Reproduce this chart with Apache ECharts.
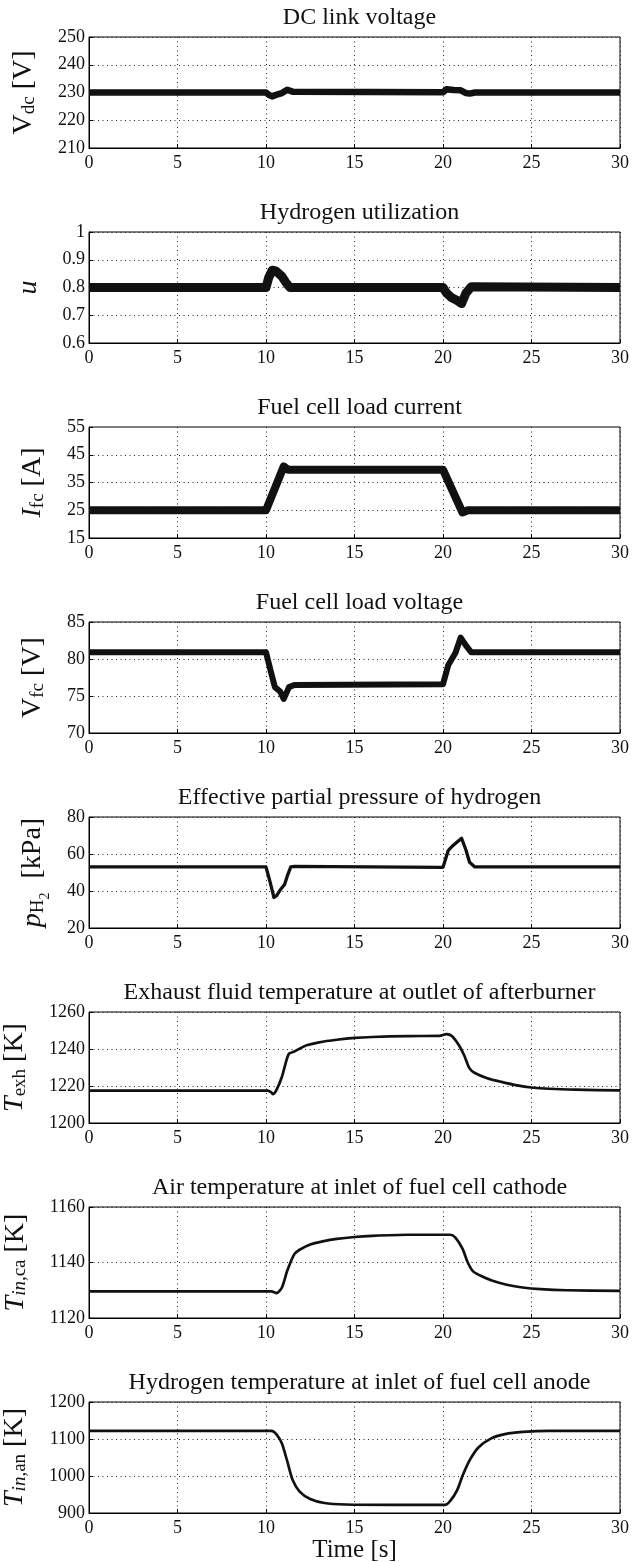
<!DOCTYPE html>
<html><head><meta charset="utf-8">
<script src="https://cdn.jsdelivr.net/npm/echarts@6/dist/echarts.min.js"></script>
<style>html,body{margin:0;padding:0;background:#fff}#c{width:643px;height:1562px}</style>
</head><body><div id="c"></div>
<script>
// ---------- data ----------
const titles = [
  'DC link voltage',
  'Hydrogen utilization',
  'Fuel cell load current',
  'Fuel cell load voltage',
  'Effective partial pressure of hydrogen',
  'Exhaust fluid temperature at outlet of afterburner',
  'Air temperature at inlet of fuel cell cathode',
  'Hydrogen temperature at inlet of fuel cell anode'
];
const xTicks = [0, 5, 10, 15, 20, 25, 30];
const yMin = [210, 0.6, 15, 70, 20, 1200, 1120, 900];
const yMax = [250, 1, 55, 85, 80, 1260, 1160, 1200];
const yStep = [10, 0.1, 10, 5, 20, 20, 20, 100];
const yTicks3 = [15, 25, 35, 45, 55];

const t1 = [0, 10, 10.15, 10.35, 10.6, 10.9, 11.2, 11.5, 20, 20.2, 20.6, 21.0, 21.3, 21.5, 21.8, 30];
const v1 = [230, 230, 229.2, 228.6, 229.2, 229.8, 231, 230.3, 230.1, 231.2, 230.9, 230.8, 229.8, 229.6, 230, 230];

const t2 = [0, 10, 10.15, 10.35, 10.55, 10.9, 11.1, 11.35, 20, 20.2, 20.5, 20.8, 21.05, 21.3, 21.6, 30];
const v2 = [0.8, 0.8, 0.835, 0.862, 0.86, 0.84, 0.82, 0.8, 0.8, 0.78, 0.763, 0.753, 0.742, 0.78, 0.803, 0.8];

const t3 = [0, 10, 11.0, 11.25, 20, 21.1, 21.4, 30];
const v3 = [25, 25, 40.8, 39.6, 39.6, 24.2, 25, 25];

const t4 = [0, 10, 10.25, 10.5, 10.8, 11.0, 11.3, 11.6, 20, 20.3, 20.7, 21.0, 21.3, 21.6, 30];
const v4 = [80.9, 80.9, 78.5, 76.2, 75.6, 74.6, 76.2, 76.5, 76.6, 79.2, 80.8, 82.9, 81.8, 80.9, 80.9];

const t5 = [0, 10, 10.2, 10.45, 10.6, 10.8, 11.05, 11.2, 11.4, 11.6, 11.7, 20, 20.3, 20.5, 20.8, 21.05, 21.3, 21.5, 21.8, 30];
const v5 = [53, 53, 46, 36.5, 37.5, 40.5, 43.5, 48, 53, 53.3, 52.8, 52.8, 62, 64, 66.5, 68.5, 62, 55.5, 53, 53];

const t6 = [0, 10.1, 10.3, 10.4, 10.6, 10.9, 11.1, 11.3, 11.6, 11.9, 12.3, 13, 14, 15, 16, 18, 19.8, 20.2, 20.5, 20.9, 21.2, 21.5, 21.8, 22.5, 23.3, 24.2, 25, 26, 27.5, 30];
const v6 = [1217.5, 1217.5, 1216.5, 1215.6, 1218, 1225, 1232, 1237.5, 1238.6, 1240.2, 1242, 1243.6, 1245, 1246, 1246.5, 1247, 1247.1, 1248, 1247, 1242, 1236.5, 1229.5, 1227, 1224.2, 1222.2, 1220.3, 1219.2, 1218.5, 1218, 1217.6];

const t7 = [0, 10.3, 10.6, 10.9, 11.2, 11.6, 11.9, 12.5, 13.2, 14, 15, 16, 18, 20.4, 20.7, 21.1, 21.4, 21.7, 22.1, 22.8, 23.6, 24.5, 25.5, 27, 30];
const v7 = [1129.6, 1129.6, 1129, 1131, 1137, 1143, 1144.6, 1146.5, 1147.6, 1148.5, 1149.2, 1149.6, 1150, 1150, 1149, 1145, 1140, 1136.8, 1135.3, 1133.4, 1132, 1131, 1130.4, 1130, 1129.8];

const t8 = [0, 10.3, 10.6, 10.9, 11.2, 11.5, 11.9, 12.5, 13.3, 14.5, 17, 20.1, 20.4, 20.8, 21.1, 21.5, 22, 22.7, 23.5, 24.5, 26, 30];
const v8 = [1122, 1122, 1112, 1088, 1040, 990, 958, 938, 927, 923, 922, 922, 932, 962, 1000, 1042, 1077, 1101, 1113, 1119, 1122, 1122];

const ts = [t1, t2, t3, t4, t5, t6, t7, t8];
const vs = [v1, v2, v3, v4, v5, v6, v7, v8];
const yNames = [
  '{r|V}{sub|dc}{r| [V]}',
  '{i|u}',
  '{i|I}{sub|fc}{r| [A]}',
  '{r|V}{sub|fc}{r| [V]}',
  '{i|p}{sub|H}{sub2|2}{r|  [kPa]}',
  '{i|T}{sub|exh}{r| [K]}',
  '{i|T}{subi|in}{sub|,ca}{r| [K]}',
  '{i|T}{subi|in}{sub|,an}{r| [K]}'
];
// ---------- styles ----------
const lineWidths = [6.5, 9, 8, 6, 3.3, 2.7, 2.7, 2.7];
const FONT = 'Liberation Serif';
const TOP0 = 37, STEP = 195, H = 111, LEFT = 89, RIGHT = 23;
const dotted = {color: '#222', width: 1, type: [1, 3.5]};
const rich = {
  r: {fontFamily: FONT, fontSize: 28, color: '#111', lineHeight: 28, padding: [0, 0, 9, 0], verticalAlign: 'top'},
  i: {fontFamily: FONT, fontSize: 28, fontStyle: 'italic', color: '#111', lineHeight: 28, padding: [0, 0, 9, 0], verticalAlign: 'top'},
  sub: {fontFamily: FONT, fontSize: 19, color: '#111', lineHeight: 19, verticalAlign: 'bottom'},
  subi: {fontFamily: FONT, fontSize: 19, fontStyle: 'italic', color: '#111', lineHeight: 19, verticalAlign: 'bottom'},
  sub2: {fontFamily: FONT, fontSize: 14, color: '#111', lineHeight: 14, verticalAlign: 'bottom', padding: [0, 0, -5, 0]}
};
const fmt = v => String(+(+v).toFixed(3));

const grid = [], xAxis = [], yAxis = [], series = [], title = [];
for (let k = 0; k < 8; k++) {
  const top = TOP0 + STEP * k;
  grid.push({left: LEFT, right: RIGHT, top: top, height: H, show: true, borderColor: '#000', borderWidth: 1,
    containLabel: false, outerBoundsMode: 'none'});
  title.push({text: titles[k], left: (LEFT + 643 - RIGHT) / 2, top: top - 36, textAlign: 'center',
    textStyle: {fontFamily: FONT, fontSize: 24, fontWeight: 'normal', color: '#111'}});
  xAxis.push({type: 'value', gridIndex: k, min: xTicks[0], max: xTicks[xTicks.length - 1], interval: 5,
    axisLine: {show: true, onZero: false, lineStyle: {color: '#000', width: 1}},
    axisTick: {show: true, inside: true, length: 4, lineStyle: {color: '#000'}},
    axisLabel: {fontFamily: FONT, fontSize: 18, color: '#111', margin: 6, formatter: fmt},
    splitLine: {show: true, lineStyle: dotted},
    name: k === 7 ? 'Time [s]' : '', nameLocation: 'middle', nameGap: 23,
    nameTextStyle: {fontFamily: FONT, fontSize: 25, color: '#111'}});
  const ya = {type: 'value', gridIndex: k, min: yMin[k], max: yMax[k], interval: yStep[k],
    axisLine: {show: true, lineStyle: {color: '#000', width: 1}},
    axisTick: {show: true, inside: true, length: 4, lineStyle: {color: '#000'}},
    axisLabel: {fontFamily: FONT, fontSize: 18, color: '#111', margin: 4, formatter: fmt},
    splitLine: {show: true, lineStyle: dotted},
    name: yNames[k], nameLocation: 'middle', nameGap: 41, nameRotate: 90,
    nameTextStyle: {rich: rich}};
  if (k === 2) {
    ya.axisLabel.customValues = yTicks3;
    ya.axisTick.customValues = yTicks3;
    ya.splitLine = {show: false};
  }
  yAxis.push(ya);
  const s = {type: 'line', xAxisIndex: k, yAxisIndex: k, showSymbol: false, silent: true, animation: false,
    data: ts[k].map((t, i) => [t, vs[k][i]]),
    lineStyle: {color: '#111', width: lineWidths[k], join: 'round', cap: 'butt'},
    smooth: k >= 5 ? 0.25 : false};
  if (k === 2) {
    s.markLine = {silent: true, symbol: ['none', 'none'], label: {show: false}, animation: false,
      lineStyle: dotted, data: yTicks3.slice(1, -1).map(v => ({yAxis: v}))};
  }
  series.push(s);
}

const chart = echarts.init(document.getElementById('c'), null, {renderer: 'canvas'});
chart.setOption({animation: false, backgroundColor: '#fff', title, grid, xAxis, yAxis, series});
</script>
</body></html>
